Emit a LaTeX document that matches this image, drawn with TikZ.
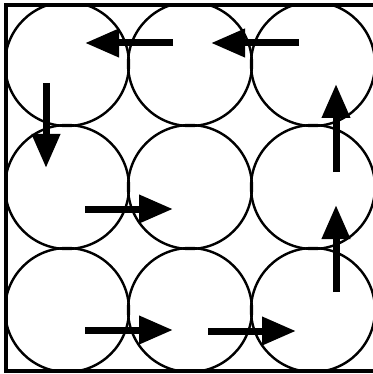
\documentclass[tikz,border=0pt]{standalone}
\usetikzlibrary{arrows.meta}
\begin{document}
\begin{tikzpicture}[x=1pt,y=-1pt,
  ring/.style={circle,draw,line width=2.4pt,minimum size=124pt,inner sep=0pt},
  flow/.style={line width=7pt,-{Triangle[length=34pt,width=27pt]}},
  frame/.style={line width=4pt}]
\useasboundingbox (0,0) rectangle (372,374);
\begin{scope}
  \clip (6,5) rectangle (380,371);
  \foreach \i in {0,1,2} \foreach \j in {0,1,2}
    \node[ring] (c\i\j) at ({67+123*\i},{64+123*\j}) {};
\end{scope}
\draw[frame] (6,5) rectangle (380,371);
% arrow end points
\coordinate (a1s) at (173,43);  \coordinate (a1e) at (85,43);
\coordinate (a2s) at (299,43);  \coordinate (a2e) at (211,43);
\coordinate (a3s) at (46,83);   \coordinate (a3e) at (46,168);
\coordinate (a4s) at (85,209);  \coordinate (a4e) at (173,209);
\coordinate (a5s) at (336,172); \coordinate (a5e) at (336,84);
\coordinate (a6s) at (336,292); \coordinate (a6e) at (336,205);
\coordinate (a7s) at (85,330);  \coordinate (a7e) at (173,330);
\coordinate (a8s) at (208,331); \coordinate (a8e) at (296,331);
\foreach \k in {1,...,8} \draw[flow] (a\k s) -- (a\k e);
\end{tikzpicture}
\end{document}
